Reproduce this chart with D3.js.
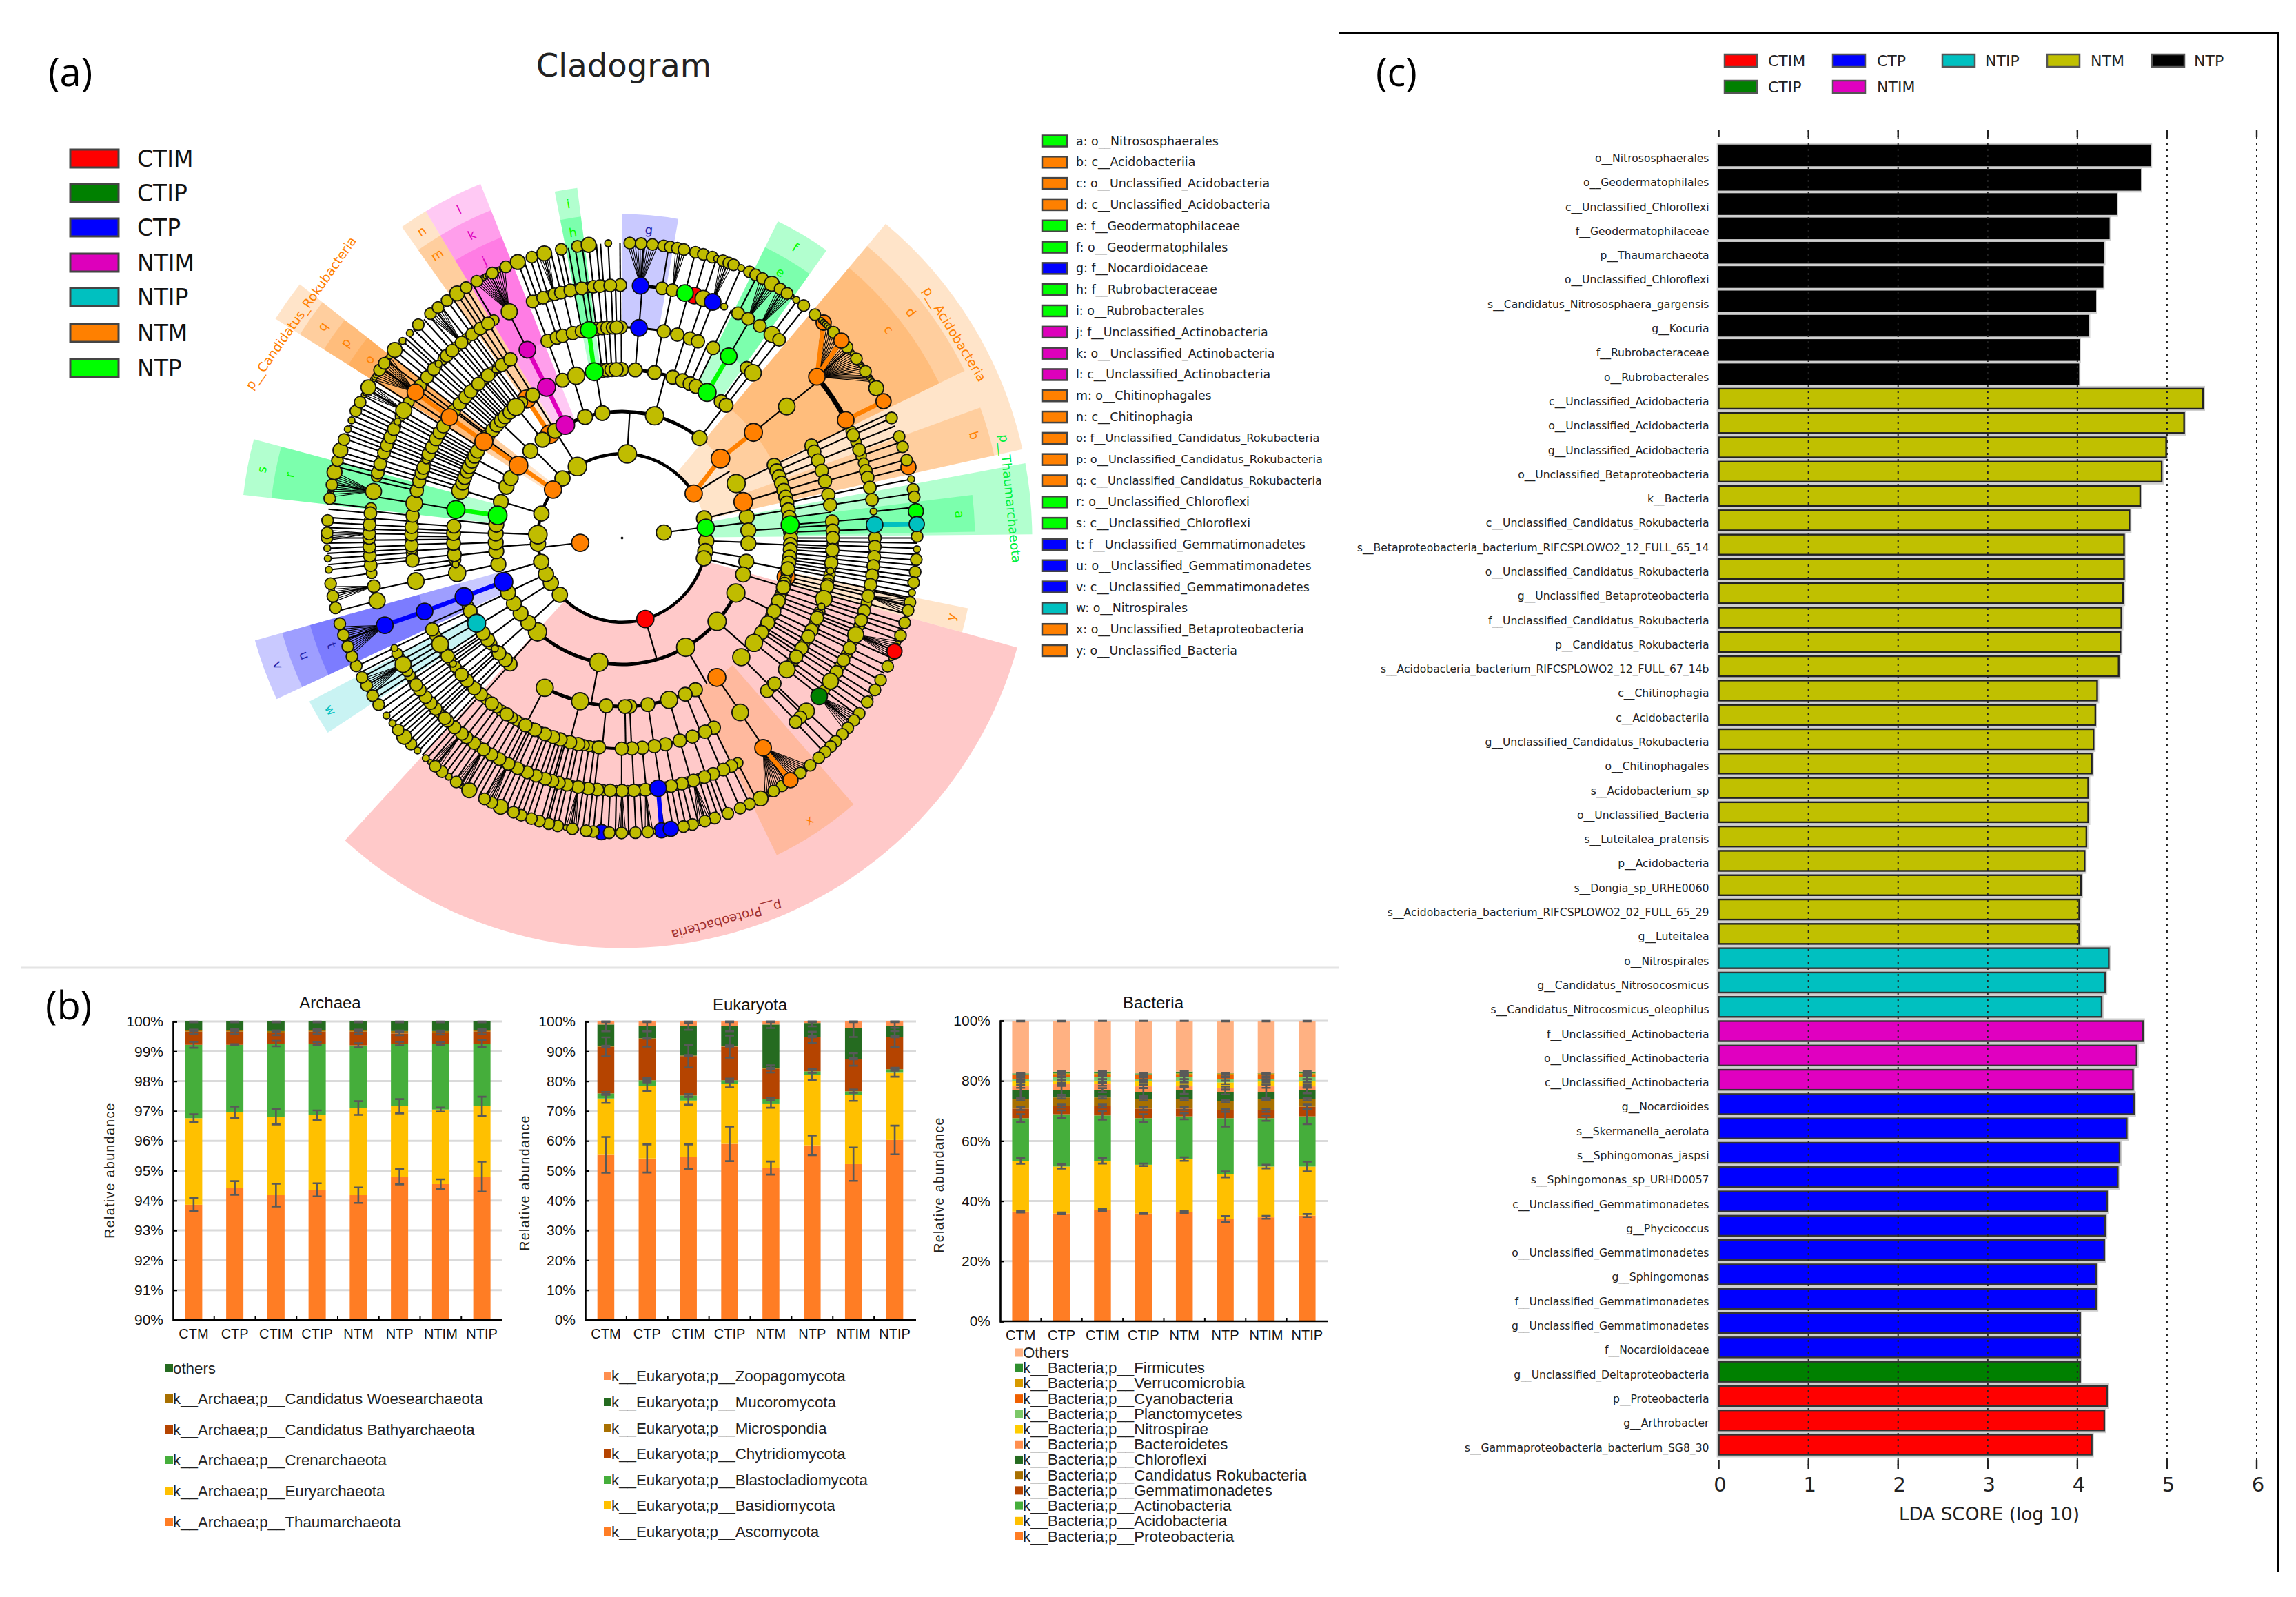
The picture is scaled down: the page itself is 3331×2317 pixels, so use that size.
<!DOCTYPE html>
<html><head><meta charset="utf-8">
<style>html,body{margin:0;padding:0;background:#fff}svg{display:block}</style>
<script src="https://cdn.jsdelivr.net/npm/d3@7/dist/d3.min.js"></script>
</head><body><svg id="c" width="3331" height="2317" viewBox="0 0 3331 2317"></svg>
<script>
// ---------- Panel (a) data ----------
const groupNames=["CTIM","CTIP","CTP","NTIM","NTIP","NTM","NTP"];
const cladoColors={CTIM:"#FF0000",CTIP:"#008000",CTP:"#0000FF",NTIM:"#DD00BB",NTIP:"#00C0C0",NTM:"#FF8000",NTP:"#00FF00"};
const wedgeColors={CTIM:"#FF0000",CTIP:"#008000",CTP:"#0000FF",NTIM:"#FF00CC",NTIP:"#00C8C8",NTM:"#FF8000",NTP:"#00FF60"};
const cladeLegend=[["a: o__Nitrososphaerales","NTP"],["b: c__Acidobacteriia","NTM"],["c: o__Unclassified_Acidobacteria","NTM"],["d: c__Unclassified_Acidobacteria","NTM"],["e: f__Geodermatophilaceae","NTP"],["f: o__Geodermatophilales","NTP"],["g: f__Nocardioidaceae","CTP"],["h: f__Rubrobacteraceae","NTP"],["i: o__Rubrobacterales","NTP"],["j: f__Unclassified_Actinobacteria","NTIM"],["k: o__Unclassified_Actinobacteria","NTIM"],["l: c__Unclassified_Actinobacteria","NTIM"],["m: o__Chitinophagales","NTM"],["n: c__Chitinophagia","NTM"],["o: f__Unclassified_Candidatus_Rokubacteria","NTM"],["p: o__Unclassified_Candidatus_Rokubacteria","NTM"],["q: c__Unclassified_Candidatus_Rokubacteria","NTM"],["r: o__Unclassified_Chloroflexi","NTP"],["s: c__Unclassified_Chloroflexi","NTP"],["t: f__Unclassified_Gemmatimonadetes","CTP"],["u: o__Unclassified_Gemmatimonadetes","CTP"],["v: c__Unclassified_Gemmatimonadetes","CTP"],["w: o__Nitrospirales","NTIP"],["x: o__Unclassified_Betaproteobacteria","NTM"],["y: o__Unclassified_Bacteria","NTM"]];
// [label, group, level, startDeg, endDeg]
const cladeWedges=[
["","NTM",2,40,77.5],["d","NTM",3,40,64],["c","NTM",4,40,64],["b","NTM",3,70,77.5],
["","NTP",2,79.5,89.5],["a","NTP",4,83,89],
["","CTIM",2,105.5,222.5],["x","NTM",4,139,154],["y","NTM",4,101.5,105.5],
["","NTM",2,302.3,308.2],["q","NTM",3,302.3,308.2],["p","NTM",4,302.3,308.2],["o","NTM",5,302.3,308.2],
["n","NTM",3,324.7,329],["m","NTM",4,324.7,329],
["l","NTIM",3,329,338.2],["k","NTIM",4,329,338.2],["j","NTIM",5,329,338.2],
["i","NTP",4,349,352.7],["h","NTP",5,349,352.7],
["g","CTP",5,0,10],
["f","NTP",4,26.2,35.4],["e","NTP",5,26.2,35.4],
["s","NTP",3,276.5,285],["r","NTP",4,276.5,285],
["v","CTP",3,245,254.4],["u","CTP",4,245,254.4],["t","CTP",5,245,254.4],
["w","NTIP",4,236.5,242.4]];
const wedgeOuter={2:595,3:553,4:512,5:470};
// [text, colour, angle, radius]
const phylumLabels=[["p__Acidobacteria","#FF8000",58.5,566],["p__Candidatus_Rokubacteria","#FF8000",305,569],["p__Thaumarchaeota","#00F040",84.2,566],["p__Proteobacteria","#A03030",164.7,575]];

const ring1=[82.6];
const ring2=[3.5,76.6,92,99,104,227.6,237.7,244.6,253.6,266,272.3,286.8,315,328];
const ring3=[14.9,37.8,64.5,80.4,86.6,92.4,100.8,106.8,115.8,131.3,149.8,190.6,222,227.9,233.4,238.8,244.4,258,264,268,272,276,286.6,293.9,298.3,306,313.5,321,328,343,351];
const ring4=[359.8,4.5,11.1,17.5,21,23.8,26,36,38.1,64.4,66.5,68.7,71,73.6,76,78,80.4,83,88,90,92.2,94,96.5,98.5,100.5,107,112,115.8,120.2,124.1,128.5,135,154.2,158,163.8,171.2,177.4,179,185.4,194.4,207.3,221.6,223.8,226.9,229,232.9,235.6,244.3,258,261,264.3,268.2,271.5,274,286.3,289,291,293.3,295,297.1,299,301,307,309.8,312,314.2,316,318.3,321,328,339.3,344.2,353.2,355,356.5,358];
const ring5=[359.6,11.4,15.2,18.8,21.1,25.6,36.3,38.4,51.4,64,65.8,68.4,71.4,74.4,78.2,81,85.5,88,90,93.3,96.8,99,103.3,106.8,109,112.3,116,117.9,121.6,124.3,128.6,134.4,136.5,133.7,145.9,154.2,156.8,160.5,164.1,168.1,171.2,174.5,177.3,180.1,186.3,192,194.3,197,199.1,201.5,204.4,207.3,213.2,218.2,222.1,224.5,227.4,229.6,233.4,235.9,239.7,244.3,258.2,263.9,268,271,273,276.1,279.5,283,285.7,288,289.5,291.6,293.5,295.6,298,300.1,302,307,309.6,312,314.1,317,320.5,323.1,325.2,328,339.3,342,343.6,346.5,349,352,353,354.6,356,357.5,358.5];
const ring6=[359.6,9.1,11.5,18.7,23.8,27.3,29.9,33,36.4,38.4,66,69.6,74.6,76.2,78.5,81.3,84,90,92,94.3,96.4,98.5,100.7,103.3,106.8,109,112.5,115.8,118.9,122,124.5,133.2,135.2,136.7,154.4,156.4,158.9,161,163.6,166.3,168.8,174.7,177.3,180,182.7,185.6,187.7,190,192.6,194.5,196,197.7,199.9,202,204.4,206.7,209,211.1,213.2,215.8,218,219.3,221.5,223.7,224.5,227.5,229.2,231,233.1,234.5,240,244.2,255.6,259,263.8,266,268,270,271,273,275.6,280.6,285,287,289.7,291.5,293.5,295.5,297.4,300.3,307,309.5,311.9,313.5,316.1,317.8,320.6,323.6,325.9,328,333.5,339.3,341.8,344.5,346,348.2,350.8,353.5,355,357.3];
const ring7=[1.5,3.7,5.9,8.1,9.4,10.8,12.1,14.4,16,17.8,18.8,20,21.2,22.2,23.8,25.6,26.9,28.4,30.5,32.4,34,36.2,38,40.8,45.8,49.7,52.6,55.6,59.5,66,69.9,72,74.7,78.5,80.5,82,89.7,92.2,94.2,96.6,98.7,100.7,102.6,104.2,106.7,109.3,115.8,118.8,121,123,123.8,126.5,128.2,130.1,131.7,133.6,135,136.5,138.2,140.4,142.8,147.2,149.1,152,154.4,156.4,159,161.7,163.7,166.2,168,175,177.4,180.1,182.5,185.6,187,189.7,192.6,194.4,196.3,197.9,200,201.6,204.3,206.2,207.8,211.2,214.2,216,217.6,219.3,221.7,223.9,225.7,227.6,229.4,231.1,233,235.6,237.7,240,241.8,244.3,246.3,248.4,250.8,253.1,256.3,258.6,261.1,263.8,266,268,270,271,273.4,277.7,280.4,282.9,285.2,287.3,289.5,291.6,293.5,295.5,297.4,300.7,304.7,306.3,309.6,311.9,314,316.3,319.5,321.4,323.6,326,328.1,330.5,333.9,336.8,339.3,342.2,344.7,348.1,351.3,353.5,357.3];
// partly hidden taxa inside the dense clumps of each ring
const ring4More=[287.5,290,292,294.2,296,298,300,302.5,307.5,308.5,311,313,315,317,319,320,322.5,323.5,262.5,266.5,269.5,270.5,272.5,225,227.8,231,233.8,234.8,236.7,242,246,86.5,91,93,95.2,97.5,99.5,102,104.5,105.5,109,110.5,113.5,117.5,119,122,123,126];
const ring5More=[284,286.8,290.5,292.5,294.5,296.8,299,303.5,306,308.2,310.8,313,315.5,318.5,319.5,321.8,324,326.5,264.8,266,267,269.5,272,274.5,223,225.8,226.5,228.5,231,232.2,234.6,237,238.5,241,242.5,91,92,94.6,95.7,98,100,101.5,102.5,104.5,105.5,107.8,110.5,111.5,113.5,115,119,120.5,122.8,126,127.3,187.5,189,190.5,193,195.5,196,198,200.5,202.7,205.5,206.2,208.5,210,211.5,215,216.5,220];
const ring6More=[284,286,288.3,290.6,292.5,294.5,296.4,298.8,301.5,302.5,308.3,310.7,312.7,315,319,322,324.7,326.9,329.5,262,264.8,267,269,272,274,276.8,222.6,225.5,226.4,228.3,230,232,235.7,237,238.2,241.8,242.8,91,93.2,95.3,97.5,99.5,101.7,102,105,108,110.3,114,117.3,120.4,123.2,125.8,127,152.8,160,162.3,165,167.5,170,176,178.7,181.3,184.2,186.6,188.8,191.3,193.5,195,198.8,200.9,203.2,205.5,207.8,210,212.1,214.5,216.9,220.4,65,67.7,71,72.8,355.8,352.2,349.5,347.2,343,340.5];
const bigNodes={2:[3.5,328,272.3,228],3:[14.9,64.5,131.3,149.8,190.6,115.8,222],4:[128.5,135,207.3,194.4,163.8,258,286.3,344.2,321],5:[51.4,145.9,128.6,38.4,106.8,258.2,239.7,305,279.5],6:[333.5,280.6,300.3,240,255.6,18.7,36.4,112.5,133.2,124.5],7:[353.5,344.7,339.3,326,287.3,282.9,309.6,300.7,152,227.6,204.3,211.2,30.5,59.5]};
const smallNodes={4:[229,261],5:[323.1,291.6,233.4,99,109],6:[244.2,313.5,297.4,23.8,84],7:[357.3,314,311.9,293.5,291.6,263.8,266,268,233,231.1,223.9,221.7,216,36.2,23.8,92.2,100.7,123,18.8,78.5]};
// [group, ring, angle, under olive nodes?]
const markerNodes=[["NTP",2,83,0],["NTM",2,58.2,0],["NTM",2,305,0],["CTIM",2,164,0],["NTM",1,263.4,0],
["NTIM",3,333.3,0],["NTM",3,325.2,1],["NTM",3,305,0],["NTP",3,280.3,0],["NTM",3,51.1,0],["NTM",3,73.4,0],["CTP",3,249.7,0],
["NTP",4,30.3,0],["NTP",4,350.5,0],["NTP",4,279.7,0],["NTP",4,85.5,0],["NTM",4,51.2,0],["NTM",4,304.9,0],["NTM",4,325.5,1],["NTM",4,145.8,0],["NTM",4,103.3,1],["NTIM",4,333.4,0],["CTP",4,249.6,0],["NTIP",4,239.6,0],
["CTP",5,4.6,0],["NTP",5,350.9,0],["NTP",5,30.4,0],["NTIM",5,333.3,0],["NTM",5,305,0],["CTP",5,249.6,0],
["CTP",6,4.2,0],["NTP",6,14.4,0],["CTIM",6,16.6,1],["CTP",6,21,0],["NTM",6,50.4,0],["NTM",6,62.2,0],["NTIP",6,87,0],["NTM",6,305.2,0],["CTP",6,249.8,0],["CTP",6,171.8,0],["CTIP",6,128.8,0],["NTM",6,146.1,0],
["NTM",7,43.1,1],["NTM",7,48,0],["NTM",7,62.4,0],["NTM",7,76.1,1],["NTM",7,145.2,0],["NTP",7,84.8,0],["NTIP",7,87.3,0],["CTIM",7,112.6,0],["CTP",7,170.5,0],["CTP",7,172.3,1],["CTP",7,184,1]];
// [group, ringA, angleA, ringB, angleB]
const thickLinks=[["NTM",2,305,3,305],["NTM",3,305,4,304.9],["NTM",4,304.9,5,305],["NTM",5,305,6,305.2],["NTM",3,325.2,4,325.5],["NTIM",3,333.3,4,333.4],["NTIM",4,333.4,5,333.3],["NTP",3,280.3,4,279.7],["NTP",4,350.5,5,350.9],["NTP",4,30.3,5,30.4],["NTM",2,58.2,3,51.1],["NTM",3,51.1,4,51.2],["NTM",6,50.4,7,43.1],["NTM",6,50.4,7,48],["NTM",6,62.2,7,62.4],["NTIP",6,87,7,87.3],["CTP",3,249.7,4,249.6],["CTP",4,249.6,5,249.6],["CTP",5,249.6,6,249.8],["CTP",6,171.8,7,172.3],["NTM",6,146.1,7,145.2]];
// [ring, startDeg, endDeg, width]
const ringArcs=[[2,104,418,4.5],[3,325,398,5],[3,116,222,5],[3,64,73,3],[4,353,396,5],[4,154,207,5],[4,107,135,1.6],[5,165,207,4],[5,352,378,3],[6,50.4,62.2,7],[6,4.2,9,5],[6,14,20,4]];
const fanGroups=[[4.2,[1,1.5,2,2.5,3,3.5,4,4.5,5,5.5,6,6.5,7]],[333.5,[330,330.5,331,331.5,332,332.5,333,333.5,334,334.5,335,335.5,336,336.5]],[305.2,[302.5,303,303.5,304,304.5,305,305.5,306,306.5,307,307.5,308]],[280.6,[278,278.5,279,279.5,280,280.5,281,281.5,282,282.5,283]],[249.8,[246.5,247,247.5,248,248.5,249,249.5,250,250.5,251,251.5,252,252.5]],[240,[238,238.5,239,239.5,240,240.5,241,241.5]],[259,[257.5,258,258.5,259,259.5,260,260.5]],[146.1,[140.5,141,141.5,142,142.5,143,143.5,144,144.5,145,145.5,146,146.5,147,147.5,148,148.5,149,149.5,150,150.5,151]],[128.8,[126.7,127.2,127.7,128.2,128.7,129.2,129.7,130.2,130.9]],[112.5,[110.5,111,111.5,112,112.5,113,113.5,114]],[103.3,[102,102.5,103,103.5,104,104.5,105]],[50.4,[42.5,43,43.5,44,44.5,45,45.5,46,46.5,47,47.5,48,48.5,49,49.5,50,50.5,51,51.5,52,52.5,53,53.5,54,54.5,55,55.5,56,56.5,57,57.5,58]],[11.5,[10.5,11,11.5,12,12.5]],[21,[19.5,20,20.5,21,21.5,22]],[29.9,[28,28.5,29,29.5,30,30.5,31,31.5]],[33,[32,32.5,33,33.5,34,34.5,35]],[213.2,[212,212.5,213,213.5,214,214.5]],[206.7,[205.8,206.2,206.7,207.2,207.7,208.2]],[219.3,[218.5,219,219.5,220,220.5]],[190,[189,189.5,190,190.5,191]],[180,[179.3,179.8,180.3,180.8]],[174.7,[174,174.5,175,175.5]],[163.6,[162.5,163,163.5,164,164.5,165]],[320.6,[319,319.5,320,320.5,321,321.5,322]],[300.3,[299,299.5,300,300.5,301,301.5]],[271,[269.5,270,270.5,271,271.5]],[344.5,[343.5,344,344.5,345,345.5]]];

// ---------- Panel (b) data ----------
const sampleLabels=["CTM","CTP","CTIM","CTIP","NTM","NTP","NTIM","NTIP"];
const stackColors={orange:"#FF7D24",yellow:"#FFC000",green:"#45AE3B",rust:"#B54400",ochre:"#A87000",dark:"#256B20",peach:"#FFB182",orange2:"#FF8F4F",yellow2:"#FFCC00",green2:"#7CC868",vermil:"#F06000",gold:"#D79A00",mid:"#2E8F2E"};
const archaeaLegend=[["others","dark"],["k__Archaea;p__Candidatus Woesearchaeota","ochre"],["k__Archaea;p__Candidatus Bathyarchaeota","rust"],["k__Archaea;p__Crenarchaeota","green"],["k__Archaea;p__Euryarchaeota","yellow"],["k__Archaea;p__Thaumarchaeota","orange"]];
const archaeaTops=[[93.86,94.42,94.18,94.36,94.18,94.8,94.55,94.8],[96.76,96.96,96.81,96.86,97.1,97.16,97.05,97.16],[99.22,99.22,99.26,99.26,99.2,99.26,99.26,99.26],[99.66,99.66,99.62,99.66,99.66,99.6,99.62,99.66],[99.7,99.7,99.68,99.7,99.7,99.68,99.68,99.7],[100,100,100,100,100,100,100,100]];
const archaeaErrs=[[.22,.23,.38,.22,.26,.26,.16,.5],[.13,.19,.26,.16,.23,.24,.07,.32],[.1,.02,.09,.05,.07,.06,.05,.12],[.07,.08,.08,.08,.07,.06,.06,.09],[.02,.02,.02,.02,.02,.02,.02,.02],[.03,.03,.03,.03,.03,.03,.03,.03]];
const eukaryotaLegend=[["k__Eukaryota;p__Zoopagomycota","orange2"],["k__Eukaryota;p__Mucoromycota","dark"],["k__Eukaryota;p__Microspondia","ochre"],["k__Eukaryota;p__Chytridiomycota","rust"],["k__Eukaryota;p__Blastocladiomycota","green"],["k__Eukaryota;p__Basidiomycota","yellow"],["k__Eukaryota;p__Ascomycota","orange"]];
const eukaryotaTops=[[55.3,54.1,54.7,59,50.9,58.5,52.2,60.3],[74.2,78.5,73.5,79.1,72.3,82.2,75.3,82.8],[75.9,80.3,75.2,80.3,74,83.3,76.6,84],[91.5,94.2,88.4,91.6,84.1,94.7,87.3,94.7],[91.7,94.4,88.6,91.8,84.3,94.9,87.5,94.9],[99,98.4,98.4,98.4,99,99.5,97.8,98.4],[100,100,100,100,100,100,100,100]];
const eukaryotaErrs=[[6,4.7,4.1,5.8,2.2,3.3,5.6,4.8],[1.5,1.9,1.4,1.15,1.2,1.9,1.9,1.3],[.5,.7,.5,.6,.5,.5,.5,.5],[3.2,2.6,3.8,3.7,1.2,1.9,2.1,3.2],[.2,.2,.2,.2,.2,.2,.2,.2],[2.3,1.7,1.2,1.7,1.2,1.1,3,1.6],[.2,.2,.2,.2,.2,.2,.2,.2]];
const bacteriaLegend=[["Others","peach"],["k__Bacteria;p__Firmicutes","mid"],["k__Bacteria;p__Verrucomicrobia","gold"],["k__Bacteria;p__Cyanobacteria","vermil"],["k__Bacteria;p__Planctomycetes","green2"],["k__Bacteria;p__Nitrospirae","yellow2"],["k__Bacteria;p__Bacteroidetes","orange2"],["k__Bacteria;p__Chloroflexi","dark"],["k__Bacteria;p__Candidatus Rokubacteria","ochre"],["k__Bacteria;p__Gemmatimonadetes","rust"],["k__Bacteria;p__Actinobacteria","green"],["k__Bacteria;p__Acidobacteria","yellow"],["k__Bacteria;p__Proteobacteria","orange"]];
const bacteriaTops=[[36.5,35.9,37,35.9,36.3,34,34.6,35.2],[53.4,51.5,53.4,52.1,54,48.9,51.5,51.5],[67.6,68.9,68.5,67.6,68.2,67.6,67.6,68.2],[70.8,71.6,71.6,70.8,70.8,70.2,70.2,71.4],[73.9,74.5,74.5,73.9,73.9,73.2,73.9,73.9],[76.9,76.9,76.9,76.3,76.9,76.3,76.3,76.9],[78.2,78.9,78.9,78.2,78.2,77.6,78.2,78.2],[80,80,80,80,80,79.5,80,80],[80.6,81.2,81.2,80.6,81.2,80.6,80.6,81.2],[81.9,81.9,81.9,81.9,81.9,81.9,81.9,81.9],[82.2,82.5,82.5,82.2,82.5,82.5,82.5,82.5],[82.5,83.1,83.1,82.5,83.1,82.5,82.5,83.1],[100,100,100,100,100,100,100,100]];
const bacteriaErrs=[[.3,.3,.4,.2,.3,1,.5,.5],[1,.7,.9,.4,.6,1,.6,1.6],[1.3,1.3,1.4,1.3,1,2.8,.9,2.6],[.5,.5,.5,.5,.5,.5,.5,.7],[.4,.4,.4,.4,.4,.4,.4,.4],[2.7,1.5,.7,1.3,1.2,.8,2.6,1],[.5,.5,.5,.5,.3,.5,.5,.5],[.4,1.2,.5,.5,.5,.6,.5,.5],[.5,1,.6,.6,.6,.6,.5,.6],[.4,.4,.4,.4,.4,.4,.4,.4],[.2,.2,.2,.2,.2,.2,.2,.2],[.2,.2,.2,.2,.2,.2,.2,.2],[.2,.2,.1,.1,.1,.2,.2,.2]];

// ---------- Panel (c) data ----------
const ldaColors={CTIM:"#FF0000",CTIP:"#008000",CTP:"#0000FF",NTIP:"#00C0C0",NTM:"#C0C000",NTIM:"#E000C0",NTP:"#000000"};
const ldaLegend=[["CTIM",0,0],["CTIP",0,1],["CTP",1,0],["NTIM",1,1],["NTIP",2,0],["NTM",3,0],["NTP",4,0]];
const ldaTaxa=["o__Nitrososphaerales","o__Geodermatophilales","c__Unclassified_Chloroflexi","f__Geodermatophilaceae","p__Thaumarchaeota","o__Unclassified_Chloroflexi","s__Candidatus_Nitrososphaera_gargensis","g__Kocuria","f__Rubrobacteraceae","o__Rubrobacterales",
"c__Unclassified_Acidobacteria","o__Unclassified_Acidobacteria","g__Unclassified_Acidobacteria","o__Unclassified_Betaproteobacteria","k__Bacteria","c__Unclassified_Candidatus_Rokubacteria","s__Betaproteobacteria_bacterium_RIFCSPLOWO2_12_FULL_65_14","o__Unclassified_Candidatus_Rokubacteria","g__Unclassified_Betaproteobacteria","f__Unclassified_Candidatus_Rokubacteria","p__Candidatus_Rokubacteria","s__Acidobacteria_bacterium_RIFCSPLOWO2_12_FULL_67_14b","c__Chitinophagia","c__Acidobacteriia","g__Unclassified_Candidatus_Rokubacteria","o__Chitinophagales","s__Acidobacterium_sp","o__Unclassified_Bacteria","s__Luteitalea_pratensis","p__Acidobacteria","s__Dongia_sp_URHE0060","s__Acidobacteria_bacterium_RIFCSPLOWO2_02_FULL_65_29","g__Luteitalea",
"o__Nitrospirales","g__Candidatus_Nitrosocosmicus","s__Candidatus_Nitrocosmicus_oleophilus",
"f__Unclassified_Actinobacteria","o__Unclassified_Actinobacteria","c__Unclassified_Actinobacteria",
"g__Nocardioides","s__Skermanella_aerolata","s__Sphingomonas_jaspsi","s__Sphingomonas_sp_URHD0057","c__Unclassified_Gemmatimonadetes","g__Phycicoccus","o__Unclassified_Gemmatimonadetes","g__Sphingomonas","f__Unclassified_Gemmatimonadetes","g__Unclassified_Gemmatimonadetes","f__Nocardioidaceae",
"g__Unclassified_Deltaproteobacteria",
"p__Proteobacteria","g__Arthrobacter","s__Gammaproteobacteria_bacterium_SG8_30"];
const ldaScores=[4.81,4.70,4.43,4.35,4.29,4.28,4.20,4.12,4.015,4.01,
5.40,5.19,4.99,4.94,4.70,4.58,4.52,4.52,4.51,4.49,4.48,4.46,4.22,4.20,4.18,4.16,4.12,4.12,4.10,4.08,4.04,4.02,4.02,
4.35,4.31,4.27,
4.73,4.66,4.62,
4.63,4.55,4.47,4.45,4.33,4.31,4.30,4.21,4.21,4.03,4.03,
4.03,
4.33,4.30,4.16];
const ldaGroupCounts=[["NTP",10],["NTM",23],["NTIP",3],["NTIM",3],["CTP",11],["CTIP",1],["CTIM",3]];
const ldaTicks=[0,1,2,3,4,5,6];

// ---------- Drawing ----------
const svg=d3.select("#c");
const DV="'DejaVu Sans'",LS="'Liberation Sans'";
svg.append("rect").attr("width",3331).attr("height",2317).attr("fill","#fff");
const txt=(p,x,y,s,o={})=>{const t=p.append("text").attr("x",x).attr("y",y).text(s).attr("font-family",o.f||DV).attr("font-size",o.s||20).attr("fill",o.c||"#000").attr("text-anchor",o.a||"start").attr("dominant-baseline","central");if(o.r!=null)t.attr("transform",`rotate(${o.r} ${x} ${y})`);if(o.ls)t.attr("letter-spacing",o.ls);return t;};

// panel labels and frame
txt(svg,70,103,"(a)",{f:"Open Sans",s:56});txt(svg,66,1457,"(b)",{f:"Open Sans",s:56});txt(svg,1996,103,"(c)",{f:"Open Sans",s:56});
txt(svg,905,95,"Cladogram",{s:46.5,a:"middle",c:"#222"});
svg.append("line").attr("x1",30).attr("x2",1942).attr("y1",1404).attr("y2",1404).attr("stroke","#E4E4E4").attr("stroke-width",3);
svg.append("path").attr("d",d3.line()([[1943,48],[3305,48],[3305,2281]])).attr("fill","none").attr("stroke","#000").attr("stroke-width",3);

// left legend (a)
const legA=svg.append("g");
groupNames.forEach((g,i)=>{const y=[230,280,330,381,431,483,534][i];
 legA.append("rect").attr("x",102).attr("y",y-13).attr("width",70).attr("height",26).attr("fill",cladoColors[g]).attr("stroke","#444").attr("stroke-width",3);
 txt(legA,199,y,g,{s:33,c:"#111"});});
// right legend (a)
const legB=svg.append("g");
const legY=d3.scaleLinear().domain([0,24]).range([204.5,944]);
cladeLegend.forEach((d,i)=>{
 legB.append("rect").attr("x",1512).attr("y",legY(i)-8).attr("width",36).attr("height",16).attr("fill",cladoColors[d[1]]).attr("stroke","#444").attr("stroke-width",2.5);
 txt(legB,1561,legY(i),d[0],{s:d[0].includes("Rokubacteria")?16.2:17.4,c:"#222"});});

// cladogram
const cx=902.5,cy=780.5;
const ringR=d3.scaleLinear().domain([0,7]).range([0,428]);
const rad=d3.scaleLinear().domain([0,360]).range([0,2*Math.PI]);
const pt=(k,a)=>{const r=ringR(k);return [r*Math.sin(rad(a)),-r*Math.cos(rad(a))];};
const G=svg.append("g").attr("transform",`translate(${cx},${cy})`);
const arc=d3.arc();
cladeWedges.forEach(d=>{
 G.append("path").attr("d",arc({innerRadius:ringR(d[2]),outerRadius:wedgeOuter[d[2]],startAngle:rad(d[3]),endAngle:rad(d[4])})).attr("fill",wedgeColors[d[1]]).attr("fill-opacity",d[1]==="NTP"?.3:.21);
});
cladeWedges.filter(d=>d[0]).forEach(d=>{
 const m=(d[3]+d[4])/2,r=wedgeOuter[d[2]]-21,x=r*Math.sin(rad(m)),y=-r*Math.cos(rad(m));
 const rot=(m>90&&m<270)?m+180:m;
 txt(G,x,y,d[0],{s:18,c:d[1]==="CTP"?"#2222AA":cladoColors[d[1]],a:"middle",r:rot});
});
phylumLabels.forEach(d=>{const x=d[3]*Math.sin(rad(d[2])),y=-d[3]*Math.cos(rad(d[2]));
 txt(G,x,y,d[0],{s:18.5,c:d[1],a:"middle",r:d[2]});});
const rings={1:ring1,2:ring2,3:ring3,4:ring4,5:ring5,6:ring6,7:ring7};
const ringsMore={4:ring4More,5:ring5More,6:ring6More};
const lines=G.append("g").attr("stroke","#000").attr("fill","none");
// radial branch from each node out to the next ring
[2,3,4,5,6].forEach(k=>{
 const own=rings[k].concat(ringsMore[k]||[],markerNodes.filter(m=>m[1]===k).map(m=>m[2]));
 own.forEach(a=>lines.append("path").attr("d",d3.line()([pt(k,a),pt(k+1,a)])).attr("stroke-width",k<4?2.2:2.1));
});
[[1,82.6],[1,263.4]].forEach(d=>lines.append("path").attr("d",d3.line()([pt(1,d[1]),pt(2,d[1])])).attr("stroke-width",2.2));
// fans of species leaves
fanGroups.forEach(f=>f[1].forEach(a=>lines.append("path").attr("d",d3.line()([pt(6,f[0]),pt(7,a)])).attr("stroke-width",1.1)));
ringArcs.forEach(d=>{G.append("path").attr("d",arc({innerRadius:ringR(d[0])-d[3]/2,outerRadius:ringR(d[0])+d[3]/2,startAngle:rad(d[1]),endAngle:rad(d[2])})).attr("fill","#000");});
thickLinks.forEach(d=>{G.append("path").attr("d",d3.line()([pt(d[1],d[2]),pt(d[3],d[4])])).attr("stroke",cladoColors[d[0]]).attr("stroke-width",6.5).attr("fill","none");});
const baseR={1:11,2:11,3:10.8,4:10,5:9.6,6:9.2,7:8.4};
const node=(k,a,r,fill)=>{const p=pt(k,a);G.append("circle").attr("cx",p[0]).attr("cy",p[1]).attr("r",r).attr("fill",fill).attr("stroke","#111").attr("stroke-width",1.8);};
const markerR={1:12.5,2:12.5,3:13.5,4:13,5:12,6:12,7:11};
const olive="#C0BC00";
markerNodes.filter(m=>m[3]).forEach(m=>node(m[1],m[2],markerR[m[1]],cladoColors[m[0]]));
// fan leaves, then ring nodes
fanGroups.forEach(f=>f[1].forEach(a=>node(7,a,4,olive)));
[7,6,5,4,3,2,1].forEach(k=>{
 const big=bigNodes[k]||[],small=smallNodes[k]||[];
 (ringsMore[k]||[]).forEach(a=>node(k,a,baseR[k]-1.5,olive));
 rings[k].forEach(a=>{
  const r=small.includes(a)?5:big.includes(a)?baseR[k]+2.4:baseR[k];
  node(k,a,r,olive);
 });
});
markerNodes.filter(m=>!m[3]).forEach(m=>node(m[1],m[2],markerR[m[1]],cladoColors[m[0]]));
G.append("circle").attr("r",2).attr("fill","#222");

// stacked bars (b)
function stacked(o){
 const g=svg.append("g");
 const xb=d3.scaleBand().domain(d3.range(8)).range([o.x0,o.x1]).padding(0);
 const y=d3.scaleLinear().domain(o.dom).range([o.yb,o.yt]);
 const colW=o.bw;
 o.ticks.forEach(t=>{if(t===o.dom[0])return;g.append("line").attr("x1",o.x0).attr("x2",o.gx).attr("y1",y(t)).attr("y2",y(t)).attr("stroke","#DADADA").attr("stroke-width",3);});
 o.tops.forEach((ser,s)=>{ser.forEach((v,i)=>{
  const base=s?o.tops[s-1][i]:o.dom[0];
  g.append("rect").attr("x",xb(i)+xb.bandwidth()/2-colW/2).attr("width",colW).attr("y",y(v)).attr("height",Math.max(y(base)-y(v),.5)).attr("fill",stackColors[o.legend[o.legend.length-1-s][1]]);
 });});
 const eb=g.append("g").attr("stroke","#595959").attr("stroke-width",2.6).attr("fill","none");
 o.tops.forEach((ser,s)=>ser.forEach((v,i)=>{
  const e=o.errs[s][i],c=xb(i)+xb.bandwidth()/2,up=Math.min(v+e,o.dom[1]),lo=v-e;
  eb.append("path").attr("d",`M${c},${y(up)}V${y(lo)}M${c-6.5},${y(up)}h13M${c-6.5},${y(lo)}h13`);
 }));
 const ax=d3.axisLeft(y).tickValues(o.ticks).tickFormat(d=>d+"%").tickSize(-6).tickPadding(14);
 const ag=g.append("g").attr("transform",`translate(${o.x0},0)`).call(ax);
 ag.select(".domain").attr("stroke","#000").attr("stroke-width",2.6);
 ag.selectAll(".tick line").attr("stroke","#000").attr("stroke-width",2.2);
 ag.selectAll("text").attr("font-family",LS).attr("font-size",21).attr("fill","#111");
 const bx=d3.axisBottom(xb).tickFormat(i=>sampleLabels[i]).tickSize(0).tickPadding(o.xpad);
 const bg=g.append("g").attr("transform",`translate(0,${o.yb})`).call(bx);
 bg.select(".domain").attr("stroke","#000").attr("stroke-width",2.6).attr("d",`M${o.x0},0H${o.gx}`);
 bg.selectAll("text").attr("font-family",LS).attr("font-size",20).attr("fill","#111");
 xb.domain().slice(1).forEach(i=>g.append("line").attr("x1",xb(i)).attr("x2",xb(i)).attr("y1",o.yb).attr("y2",o.yb-5).attr("stroke","#000").attr("stroke-width",2));
 txt(g,o.tx,o.ty,o.title,{f:LS,s:24,a:"middle",c:"#111"});
 txt(g,o.lx,o.ly,"Relative abundance",{f:LS,s:19.5,a:"middle",r:-90,c:"#222",ls:1.4});
 o.legend.forEach((d,i)=>{
  g.append("rect").attr("x",o.lgx).attr("y",o.lgy[i]-6).attr("width",11).attr("height",12).attr("fill",stackColors[d[1]]);
  txt(g,o.lgx+11,o.lgy[i],d[0],{f:LS,s:o.lgs,c:"#222"});
 });
}
const tickArch=d3.range(90,101);
stacked({x0:251,x1:729,gx:729,yb:1915,yt:1482,dom:[90,100],ticks:tickArch,tops:archaeaTops,errs:archaeaErrs,legend:archaeaLegend,bw:25,xpad:13,tx:479,ty:1454,title:"Archaea",lx:159,ly:1698,lgx:240,lgy:[1985,2029,2074,2118,2163,2208],lgs:22.3});
stacked({x0:849,x1:1328,gx:1329,yb:1915,yt:1482,dom:[0,100],ticks:d3.range(0,101,10),tops:eukaryotaTops,errs:eukaryotaErrs,legend:eukaryotaLegend,bw:24.5,xpad:13,tx:1088,ty:1457,title:"Eukaryota",lx:761,ly:1716,lgx:876,lgy:[1996,2034,2072,2109,2147,2184,2222],lgs:22.3});
stacked({x0:1451,x1:1926,gx:1927,yb:1917,yt:1481,dom:[0,100],ticks:d3.range(0,101,20),tops:bacteriaTops,errs:bacteriaErrs,legend:bacteriaLegend,bw:24.5,xpad:13,tx:1673,ty:1454,title:"Bacteria",lx:1362,ly:1719,lgx:1473,lgy:d3.range(13).map(d3.scaleLinear().domain([0,12]).range([1962.5,2229])),lgs:22.3});

// LDA bars (c)
const lx=d3.scaleLinear().domain([0,6]).range([2493.6,3274]);
const ly=d3.scaleBand().domain(d3.range(ldaTaxa.length)).range([225.5-17.65,2096+17.65]).paddingInner(.12).paddingOuter(.06);
const ldaGroups=ldaGroupCounts.flatMap(d=>d3.range(d[1]).map(()=>d[0]));
const C=svg.append("g");
ldaLegend.forEach(d=>{
 const xs=[2502,2659,2818,2970,3122],tx=[2565,2723,2880,3033,3183],y=[88,126][d[2]];
 C.append("rect").attr("x",xs[d[1]]).attr("y",y-9).attr("width",47).attr("height",18).attr("fill",ldaColors[d[0]]).attr("stroke","#555").attr("stroke-width",2.5);
 txt(C,tx[d[1]],y,d[0],{s:22,c:"#222"});
});
ldaScores.forEach((v,i)=>{
 C.append("rect").attr("x",lx(0)).attr("width",lx(v)-lx(0)).attr("y",ly(i)).attr("height",ly.bandwidth()).attr("fill","none").attr("stroke","#CFCFCF").attr("stroke-width",6);
});
ldaScores.forEach((v,i)=>{
 C.append("rect").attr("x",lx(0)).attr("width",lx(v)-lx(0)).attr("y",ly(i)+1).attr("height",ly.bandwidth()-2).attr("fill",ldaColors[ldaGroups[i]]).attr("stroke",ldaGroups[i]==="NTM"?"#222":ldaColors[ldaGroups[i]]==="#000000"?"#000":"#333").attr("stroke-width",2.4);
 txt(C,2479.5,ly(i)+ly.bandwidth()/2+4.5,ldaTaxa[i],{s:15.6,a:"end",c:"#222"});
});
ldaTicks.forEach(t=>{
 C.append("line").attr("x1",lx(t)).attr("x2",lx(t)).attr("y1",189).attr("y2",2125).attr("stroke",t?"#222":"none").attr("stroke-width",2).attr("stroke-dasharray","3 6");
 C.append("line").attr("x1",lx(t)).attr("x2",lx(t)).attr("y1",189).attr("y2",199).attr("stroke","#222").attr("stroke-width",2.4);
 C.append("line").attr("x1",lx(t)).attr("x2",lx(t)).attr("y1",2118).attr("y2",2132).attr("stroke","#222").attr("stroke-width",2.4);
 txt(C,lx(t)+2,2154,String(t),{s:29,a:"middle",c:"#222"});
});
txt(C,2886,2197,"LDA SCORE (log 10)",{s:26.3,a:"middle",c:"#222"});
</script></body></html>
